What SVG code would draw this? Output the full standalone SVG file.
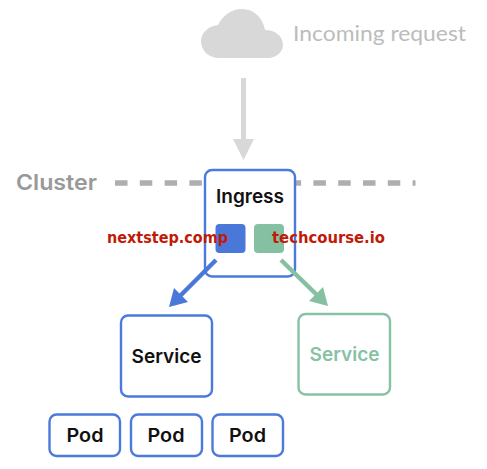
<svg xmlns="http://www.w3.org/2000/svg" width="487" height="469" viewBox="0 0 487 469">
<style>
text{font-family:"Inter","Liberation Sans",sans-serif;text-anchor:middle}
.box{fill:#fff;stroke:#4a7bdc;stroke-width:2.4}
.green{fill:#fff;stroke:#86c2a3;stroke-width:2.4}
.k{font-weight:600;font-size:19px;fill:#111}
.red{font-family:"DejaVu Sans","Liberation Sans",sans-serif;font-weight:700;font-size:16px;fill:#c01a08;text-anchor:start}
</style>
<rect width="487" height="469" fill="#fff"/>
<g id="cloud"><path d="M219 58C208 58 201 50 201 41C201 33 208 26 218 25C223 15 232 9 242 9C254 9 263 18 265 30C275 30 283 36 283 45C283 52 276 58 268 58Z" fill="#d8d8d8"/>
<text x="379.500" y="41" style="font-family:Lato,sans-serif;font-size:21.500px;fill:#bcbcbc" textLength="173" lengthAdjust="spacingAndGlyphs">Incoming request</text></g>
<g id="cluster-line"><text x="56.500" y="190" style="font-size:22px;font-weight:600;fill:#999" textLength="81" lengthAdjust="spacingAndGlyphs">Cluster</text>
<line x1="115" y1="183" x2="415.500" y2="183" stroke="#aeaeae" stroke-width="5.500" stroke-dasharray="12.500 12.300"/></g>
<g id="ingress"><rect class="box" x="205" y="170" width="90" height="106.500" rx="7"/>
<text class="k" x="250" y="203" textLength="68" lengthAdjust="spacingAndGlyphs">Ingress</text>
<rect x="215.500" y="224" width="30" height="29" rx="4" fill="#4a78d8"/>
<rect x="254" y="224" width="30" height="29" rx="4" fill="#86c0a2"/></g>
<g id="connectors">
<path d="M243.500 78V140" stroke="#d8d8d8" stroke-width="5" fill="none"/><path d="M233 139H254L243.500 160Z" fill="#d8d8d8"/>
<path d="M216 260L179 297" stroke="#4a78d8" stroke-width="4.500" fill="none"/><path d="M169 307L174 288L188 302Z" fill="#4a78d8"/>
<path d="M281 260L318 296" stroke="#86c0a2" stroke-width="4.500" fill="none"/><path d="M328 306L309 301L323 287Z" fill="#86c0a2"/>
</g>
<g id="service-blue"><rect class="box" x="121" y="315.500" width="91" height="81" rx="7"/><text class="k" x="166.500" y="363" textLength="70" lengthAdjust="spacingAndGlyphs">Service</text></g>
<g id="service-green"><rect class="green" x="298.500" y="314" width="91.500" height="80.500" rx="7"/><text class="k" x="344.500" y="361" style="fill:#86c2a3" textLength="70" lengthAdjust="spacingAndGlyphs">Service</text></g>
<g id="pod-1"><rect class="box" x="49.500" y="414.500" width="70.500" height="41.500" rx="7"/><text class="k" x="85" y="441.500" textLength="37" lengthAdjust="spacingAndGlyphs">Pod</text></g>
<g id="pod-2"><rect class="box" x="131" y="414.500" width="71" height="41.500" rx="7"/><text class="k" x="166" y="441.500" textLength="37" lengthAdjust="spacingAndGlyphs">Pod</text></g>
<g id="pod-3"><rect class="box" x="212.500" y="414.500" width="70.500" height="41.500" rx="7"/><text class="k" x="247.500" y="441.500" textLength="37" lengthAdjust="spacingAndGlyphs">Pod</text></g>
<g id="labels"><text class="red" x="107" y="243" textLength="121" lengthAdjust="spacingAndGlyphs">nextstep.comp</text>
<text class="red" x="272" y="243" textLength="113" lengthAdjust="spacingAndGlyphs">techcourse.io</text></g>
</svg>
